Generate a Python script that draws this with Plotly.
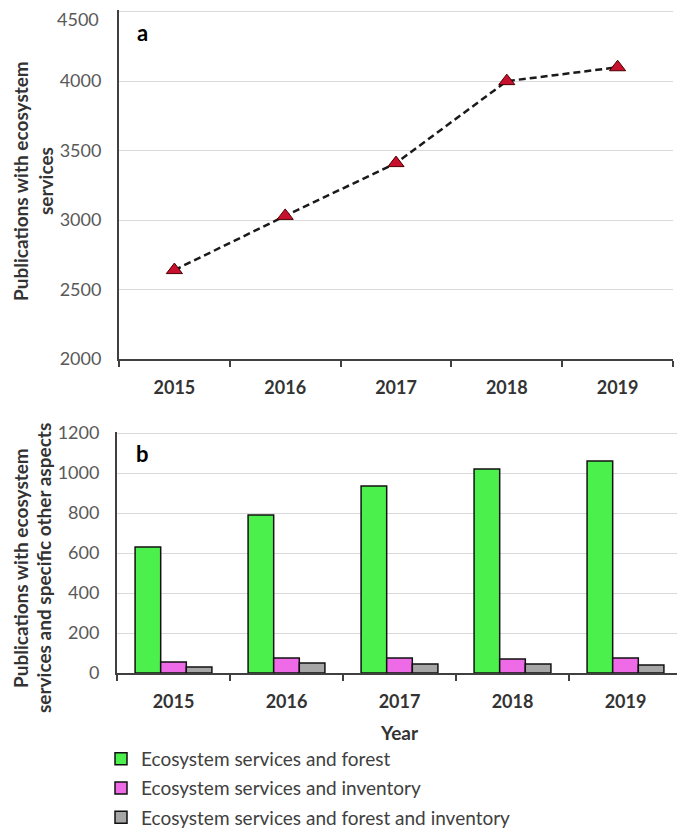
import plotly.graph_objects as go

years = ["2015", "2016", "2017", "2018", "2019"]
pubs_es = [2640, 3030, 3410, 4000, 4100]

es_forest = [630, 790, 935, 1020, 1060]
es_inventory = [55, 75, 75, 70, 75]
es_forest_inventory = [30, 50, 45, 45, 40]

series_names = [
    "Ecosystem services and forest",
    "Ecosystem services and inventory",
    "Ecosystem services and forest and inventory",
]
series_colors = ["#4cf04c", "#ee6ae6", "#a6a6a6"]

ticks_a = [2000, 2500, 3000, 3500, 4000, 4500]
ticks_b = [0, 200, 400, 600, 800, 1000, 1200]

# page body has an 8px margin, so the figure is sized to fit the window
OFF = 8
W, H = 685 - OFF, 829 - OFF
FONT = "Lato"

def px_x(p):
    return (p - OFF) / W

def px_y(p):
    return min(1.0, 1 - (p - OFF) / H)

fig = go.Figure()

fig.add_trace(go.Scatter(
    x=years, y=pubs_es, mode="lines+markers",
    line=dict(color="#1a1a1a", width=2.5, dash="7px,4px"),
    marker=dict(symbol="triangle-up", size=14, color="#c8102e",
                line=dict(color="#4a0000", width=1)),
    xaxis="x", yaxis="y", showlegend=False,
))

for name, vals, col in zip(series_names, [es_forest, es_inventory, es_forest_inventory], series_colors):
    fig.add_trace(go.Bar(
        x=years, y=vals, name=name, legendgroup=name,
        marker=dict(color=col, line=dict(color="#111111", width=1.5)),
        xaxis="x2", yaxis="y2",
    ))

tick_font = dict(family=FONT, size=18, color="#595959")
xtick_font = dict(family=FONT, size=18, color="#333333", weight="bold")

common_x = dict(
    type="category", showline=True, linecolor="#404040", linewidth=2,
    ticks="outside", tickson="boundaries", ticklen=6, tickcolor="#404040", tickwidth=1.5,
    showgrid=False, tickfont=xtick_font, ticklabelstandoff=11, fixedrange=True,
    automargin=False,
)
common_y = dict(
    showline=True, linecolor="#404040", linewidth=2, ticks="",
    showgrid=True, gridcolor="#d9d9d9", gridwidth=1.2, zeroline=False,
    tickfont=tick_font, ticklabelstandoff=12, automargin=False,
    ticklabeloverflow="allow",
)

# top label of panel a would touch the page edge; it is drawn as an annotation nudged down
ticktext_a = [str(v) for v in ticks_a[:-1]] + [""]

fig.update_layout(
    width=W, height=H,
    margin=dict(l=0, r=0, t=0, b=0, pad=0, autoexpand=False),
    paper_bgcolor="white", plot_bgcolor="white",
    barmode="group", bargap=0.32, bargroupgap=0,
    xaxis=dict(domain=[px_x(119), px_x(673)], anchor="y", range=[-0.5, 4.5], **common_x),
    yaxis=dict(domain=[px_y(359), px_y(10)], anchor="x", range=[2000, 4512],
               tickvals=ticks_a, ticktext=ticktext_a, **common_y),
    xaxis2=dict(domain=[px_x(117), px_x(682)], anchor="y2", range=[-0.5, 4.5], **common_x),
    yaxis2=dict(domain=[px_y(673), px_y(431.6)], anchor="x2", range=[0, 1207],
                tickvals=ticks_b, **common_y),
    showlegend=True,
    legend=dict(
        x=px_x(101), y=px_y(740), xanchor="left", yanchor="top",
        orientation="v", traceorder="grouped", tracegroupgap=1.5,
        font=dict(family=FONT, size=19, color="#404040"),
        bgcolor="rgba(0,0,0,0)", itemwidth=30,
    ),
    font=dict(family=FONT),
)

ann = []
ann.append(dict(text=str(ticks_a[-1]), x=px_x(101), xref="paper", y=ticks_a[-1], yref="y",
                yshift=-7, showarrow=False, font=tick_font, xanchor="right", yanchor="middle"))
title_font = dict(family=FONT, size=19, color="#333333", weight="bold")
ann.append(dict(text="Publications with ecosystem", x=px_x(20), y=px_y(181), xref="paper", yref="paper",
                textangle=-90, showarrow=False, font=title_font, xanchor="center", yanchor="middle"))
ann.append(dict(text="services", x=px_x(45), y=px_y(181), xref="paper", yref="paper",
                textangle=-90, showarrow=False, font=title_font, xanchor="center", yanchor="middle"))
ann.append(dict(text="Publications with ecosystem", x=px_x(20), y=px_y(568), xref="paper", yref="paper",
                textangle=-90, showarrow=False, font=title_font, xanchor="center", yanchor="middle"))
ann.append(dict(text="services and specific other aspects", x=px_x(43), y=px_y(568), xref="paper", yref="paper",
                textangle=-90, showarrow=False, font=title_font, xanchor="center", yanchor="middle"))
ann.append(dict(text="Year", x=px_x(399), y=px_y(732), xref="paper", yref="paper",
                showarrow=False, font=title_font, xanchor="center", yanchor="middle"))
panel_font = dict(family=FONT, size=22, color="#000000", weight="bold")
ann.append(dict(text="a", x=px_x(142), y=px_y(33), xref="paper", yref="paper",
                showarrow=False, font=panel_font, xanchor="center", yanchor="middle"))
ann.append(dict(text="b", x=px_x(142), y=px_y(454), xref="paper", yref="paper",
                showarrow=False, font=panel_font, xanchor="center", yanchor="middle"))
fig.update_layout(annotations=ann)

fig.write_html("out.html")
